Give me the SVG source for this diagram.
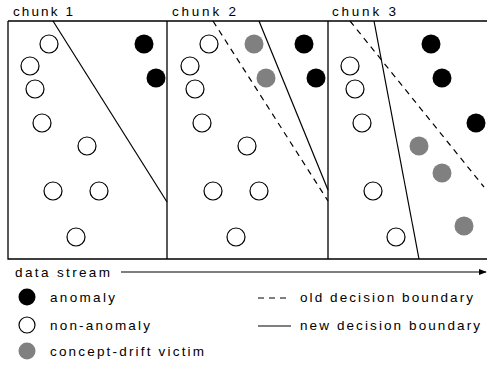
<svg xmlns="http://www.w3.org/2000/svg" width="487" height="366" viewBox="0 0 487 366">
<defs>
<style>
.t{font-family:"Liberation Sans","DejaVu Sans",sans-serif;font-size:13.5px;fill:#000}
.box{fill:none;stroke:#000;stroke-width:1.3}
.bd{stroke:#000;stroke-width:1.2;fill:none}
.old{stroke-dasharray:6,5}
.a{fill:#000;stroke:none}
.n{fill:#fff;stroke:#000;stroke-width:1.2}
.v{fill:#808080;stroke:none}
</style>
<marker id="arr" viewBox="0 0 10 10" refX="9" refY="5" markerWidth="8" markerHeight="8" markerUnits="userSpaceOnUse" orient="auto">
<path d="M0,1 L10,5 L0,9 Z" fill="#000"/>
</marker>
</defs>
<rect width="487" height="366" fill="#fff"/>
<g id="frame">
<path class="box" d="M8,21 H490 M8,21 V259 H490 M167,21 V259 M328,21 V259"/>
</g>
<g id="labels">
<text class="t" x="13" y="16" textLength="60" lengthAdjust="spacing">chunk 1</text>
<text class="t" x="172" y="16" textLength="64" lengthAdjust="spacing">chunk 2</text>
<text class="t" x="332" y="16" textLength="64" lengthAdjust="spacing">chunk 3</text>
</g>
<g id="connectors">
<line class="bd" x1="53" y1="21" x2="167" y2="202"/>
<line class="bd old" x1="213" y1="21" x2="328" y2="201"/>
<line class="bd" x1="259" y1="21" x2="328" y2="190"/>
<line class="bd old" x1="350" y1="21" x2="484" y2="187"/>
<line class="bd" x1="374" y1="21" x2="419" y2="259"/>
<line class="bd" x1="121" y1="272" x2="486" y2="272" marker-end="url(#arr)"/>
</g>
<g id="chunk1">
<circle class="n" cx="49" cy="44" r="9"/>
<circle class="n" cx="30" cy="66" r="9"/>
<circle class="n" cx="35" cy="89" r="9"/>
<circle class="n" cx="42" cy="123" r="9"/>
<circle class="n" cx="87" cy="146" r="9"/>
<circle class="n" cx="53" cy="191" r="9"/>
<circle class="n" cx="99" cy="191" r="9"/>
<circle class="n" cx="76" cy="237" r="9"/>
<circle class="a" cx="144" cy="44" r="9.5"/>
<circle class="a" cx="156" cy="78" r="9.5"/>
</g>
<g id="chunk2">
<circle class="n" cx="209" cy="44" r="9"/>
<circle class="n" cx="190" cy="66" r="9"/>
<circle class="n" cx="195" cy="89" r="9"/>
<circle class="n" cx="202" cy="123" r="9"/>
<circle class="n" cx="247" cy="146" r="9"/>
<circle class="n" cx="213" cy="191" r="9"/>
<circle class="n" cx="259" cy="191" r="9"/>
<circle class="n" cx="236" cy="237" r="9"/>
<circle class="v" cx="254" cy="44" r="9.5"/>
<circle class="v" cx="266" cy="78" r="9.5"/>
<circle class="a" cx="304" cy="44" r="9.5"/>
<circle class="a" cx="316" cy="78" r="9.5"/>
</g>
<g id="chunk3">
<circle class="n" cx="350" cy="66" r="9"/>
<circle class="n" cx="355" cy="89" r="9"/>
<circle class="n" cx="362" cy="123" r="9"/>
<circle class="n" cx="373" cy="191" r="9"/>
<circle class="n" cx="396" cy="237" r="9"/>
<circle class="a" cx="431" cy="44" r="9.5"/>
<circle class="a" cx="442" cy="78" r="9.5"/>
<circle class="a" cx="476" cy="123" r="9.5"/>
<circle class="v" cx="419" cy="146" r="9.5"/>
<circle class="v" cx="442" cy="173" r="9.5"/>
<circle class="v" cx="464" cy="226" r="9.5"/>
</g>
<g id="stream">
<text class="t" x="15" y="277" textLength="95" lengthAdjust="spacing">data stream</text>
</g>
<g id="legend">
<circle class="a" cx="27" cy="297" r="8.5"/>
<text class="t" x="50" y="302" textLength="65" lengthAdjust="spacing">anomaly</text>
<circle class="n" cx="27" cy="325" r="8"/>
<text class="t" x="50" y="330" textLength="100" lengthAdjust="spacing">non-anomaly</text>
<circle class="v" cx="27" cy="351" r="8.5"/>
<text class="t" x="50" y="356" textLength="154" lengthAdjust="spacing">concept-drift victim</text>
<line class="bd old" x1="258" y1="298" x2="291" y2="298"/>
<text class="t" x="300" y="302" textLength="173" lengthAdjust="spacing">old decision boundary</text>
<line class="bd" x1="258" y1="326" x2="291" y2="326"/>
<text class="t" x="300" y="330" textLength="180" lengthAdjust="spacing">new decision boundary</text>
</g>
</svg>
